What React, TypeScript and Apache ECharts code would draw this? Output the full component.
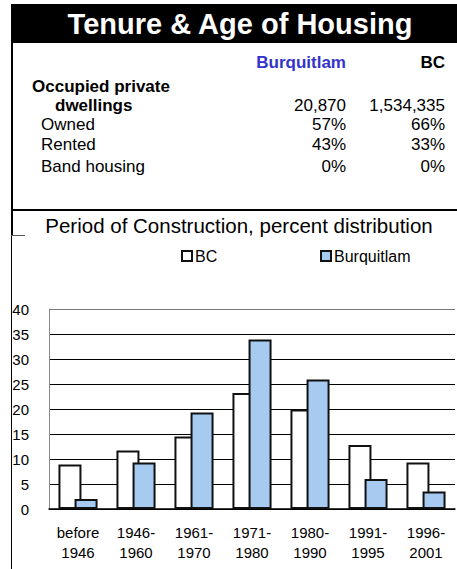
import React, { useEffect, useRef } from "react";
import * as echarts from "echarts";

const FONT = '"Liberation Sans", Arial, sans-serif';

const categories = [
  "before\n1946",
  "1946-\n1960",
  "1961-\n1970",
  "1971-\n1980",
  "1980-\n1990",
  "1991-\n1995",
  "1996-\n2001",
];
const bcValues = [8.9, 11.7, 14.5, 23.2, 19.9, 12.8, 9.3];
const burqValues = [2.0, 9.3, 19.3, 33.9, 25.9, 6.0, 3.5];

const tableHeaders = ["Burquitlam", "BC"];
const tableRows = ["Owned", "Rented", "Band housing"];
const tableBurq = ["57%", "43%", "0%"];
const tableBC = ["66%", "33%", "0%"];
const dwellingsBurq = "20,870";
const dwellingsBC = "1,534,335";

function txt(text: string, x: number, y: number, opts: any = {}) {
  return {
    type: "text",
    x,
    y,
    silent: true,
    style: {
      text,
      fill: opts.fill || "#000",
      fontSize: opts.size || 17,
      fontWeight: opts.bold ? "bold" : "normal",
      fontFamily: FONT,
      textAlign: opts.align || "left",
      textVerticalAlign: "middle",
    },
  };
}

export default function App() {
  const ref = useRef<HTMLDivElement>(null);
  useEffect(() => {
    if (!ref.current) return;
    const chart = echarts.init(ref.current, undefined, { renderer: "svg" });
    const colR1 = 346;
    const colR2 = 445;
    const graphics: any[] = [
      { type: "rect", shape: { x: 11, y: 4, width: 446, height: 39 }, style: { fill: "#000" }, silent: true },
      txt("Tenure & Age of Housing", 240, 23.5, { size: 29, bold: true, fill: "#fff", align: "center" }),
      { type: "line", shape: { x1: 12, y1: 43, x2: 12, y2: 235 }, style: { stroke: "#000", lineWidth: 2 }, silent: true },
      { type: "line", shape: { x1: 11.5, y1: 235, x2: 11.5, y2: 569 }, style: { stroke: "#000", lineWidth: 1 }, silent: true },
      { type: "line", shape: { x1: 11, y1: 210, x2: 457, y2: 210 }, style: { stroke: "#000", lineWidth: 2 }, silent: true },
      { type: "line", shape: { x1: 11, y1: 235.5, x2: 25, y2: 235.5 }, style: { stroke: "#555", lineWidth: 1 }, silent: true },
      txt(tableHeaders[0], colR1, 62, { bold: true, fill: "#3333CC", align: "right" }),
      txt(tableHeaders[1], colR2, 62, { bold: true, align: "right" }),
      txt("Occupied private", 32, 86, { bold: true }),
      txt("dwellings", 55, 105, { bold: true }),
      txt(dwellingsBurq, colR1, 105, { align: "right" }),
      txt(dwellingsBC, colR2, 105, { align: "right" }),
      txt("Period of Construction, percent distribution", 239, 225, { size: 20.5, align: "center" }),
    ];
    tableRows.forEach((r, i) => {
      const y = [124, 144, 166][i];
      graphics.push(txt(r, 41, y));
      graphics.push(txt(tableBurq[i], colR1, y, { align: "right" }));
      graphics.push(txt(tableBC[i], colR2, y, { align: "right" }));
    });

    const legendBase = {
      top: 248,
      padding: 0,
      itemWidth: 10,
      itemHeight: 10,
      icon: "rect",
      textStyle: { fontSize: 16, color: "#000", fontFamily: FONT, padding: [0, 0, 0, -2] },
    };

    chart.setOption({
      animation: false,
      textStyle: { fontFamily: FONT },
      graphic: graphics,
      legend: [
        { ...legendBase, data: ["BC"], left: 181 },
        { ...legendBase, data: ["Burquitlam"], left: 320 },
      ],
      grid: { left: 49, top: 309, width: 406, height: 200 },
      xAxis: {
        type: "category",
        data: categories,
        axisTick: { show: false },
        axisLine: { lineStyle: { color: "#000", width: 1.5 } },
        axisLabel: { fontSize: 15, color: "#000", lineHeight: 20, margin: 13, fontFamily: FONT, interval: 0 },
      },
      yAxis: {
        type: "value",
        min: 0,
        max: 40,
        interval: 5,
        axisLine: { show: true, lineStyle: { color: "#888", width: 1 } },
        axisTick: { show: false },
        axisLabel: { fontSize: 15, color: "#000", margin: 20, fontFamily: FONT },
        splitLine: {
          lineStyle: {
            color: ["#000", "#000", "#000", "#000", "#000", "#000", "#000", "#000", "#777"],
            width: 1,
          },
        },
      },
      series: [
        {
          name: "BC",
          type: "bar",
          data: bcValues,
          barWidth: 23,
          barGap: "-30%",
          itemStyle: { color: "#fff", borderColor: "#111", borderWidth: 2 },
        },
        {
          name: "Burquitlam",
          type: "bar",
          data: burqValues,
          barWidth: 23,
          barGap: "-30%",
          itemStyle: { color: "#A6CAF0", borderColor: "#111", borderWidth: 2 },
        },
      ],
    });
    return () => chart.dispose();
  }, []);
  return (
    <div
      ref={ref}
      style={{ position: "absolute", left: 0, top: 0, width: 457, height: 569, background: "#fff" }}
    />
  );
}
